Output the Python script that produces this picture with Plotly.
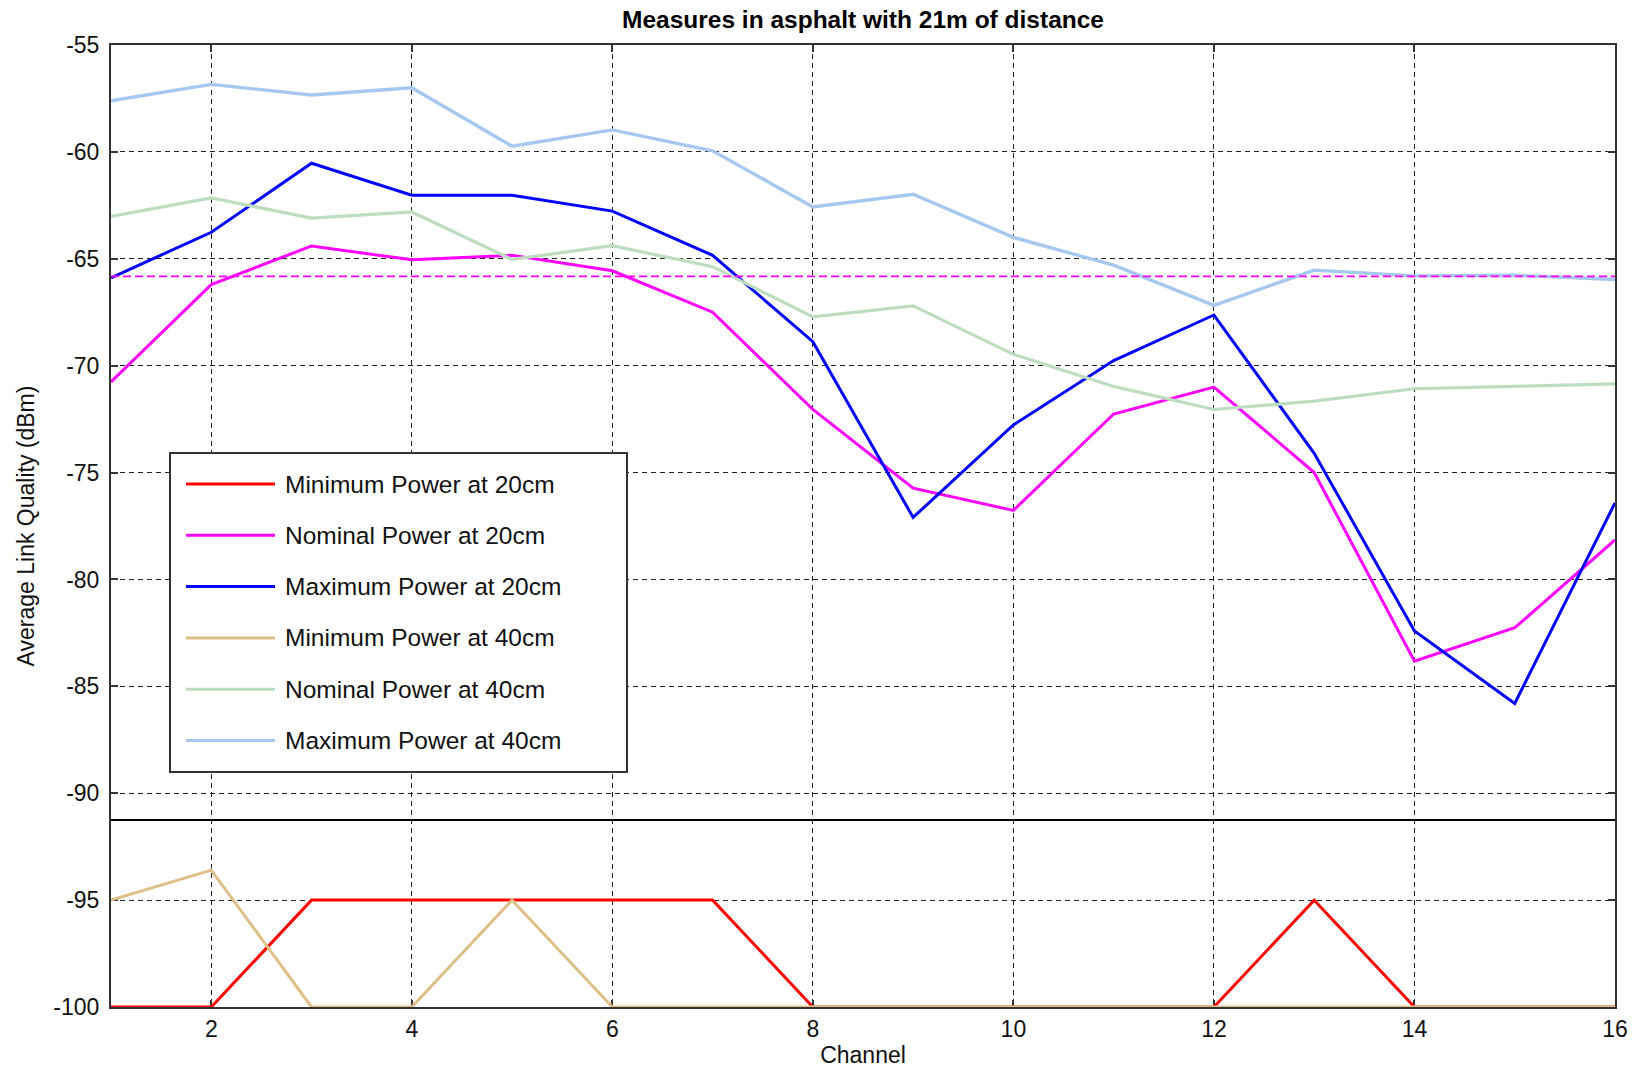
import plotly.graph_objects as go

# ---------------- data ----------------
channels = list(range(1, 17))

min_20cm = [-100, -100, -95, -95, -95, -95, -95, -100, -100, -100, -100, -100, -95, -100, -100, -100]
nom_20cm = [-70.76, -66.21, -64.40, -65.05, -64.84, -65.56, -67.50, -72.05, -75.73, -76.77, -72.26, -71.00, -75.00, -83.82, -82.26, -78.15]
max_20cm = [-65.89, -63.76, -60.53, -62.03, -62.03, -62.77, -64.84, -68.88, -77.10, -72.77, -69.76, -67.63, -74.10, -82.41, -85.80, -76.42]
min_40cm = [-95, -93.6, -100, -100, -95, -100, -100, -100, -100, -100, -100, -100, -100, -100, -100, -100]
nom_40cm = [-63.02, -62.15, -63.10, -62.81, -65.03, -64.39, -65.37, -67.72, -67.20, -69.47, -70.97, -72.05, -71.66, -71.08, -70.97, -70.85]
max_40cm = [-57.61, -56.84, -57.34, -57.00, -59.73, -58.97, -59.95, -62.58, -61.98, -64.00, -65.30, -67.18, -65.53, -65.80, -65.77, -65.97]

reference_level = -65.82     # magenta dashed line
separator_level = -91.25     # solid black line

series_names = ["Minimum Power at 20cm", "Nominal Power at 20cm", "Maximum Power at 20cm",
                "Minimum Power at 40cm", "Nominal Power at 40cm", "Maximum Power at 40cm"]
series_values = [min_20cm, nom_20cm, max_20cm, min_40cm, nom_40cm, max_40cm]
series_colors = ["#FF0000", "#FF00FF", "#0000FF", "#DEBF87", "#BEDDBE", "#A6C8F0"]
series_widths = [3.0, 3.0, 3.0, 3.0, 3.2, 3.4]

x_ticks = [2, 4, 6, 8, 10, 12, 14, 16]
x_tick_labels = ["2", "4", "6", "8", "10", "12", "14", "16"]
y_ticks = [-100, -95, -90, -85, -80, -75, -70, -65, -60, -55]
y_tick_labels = ["-100", "-95", "-90", "-85", "-80", "-75", "-70", "-65", "-60", "-55"]

title_text = "Measures in asphalt with 21m of distance"
x_title = "Channel"
y_title = "Average Link Quality (dBm)"

# ---------------- figure ----------------
FONT = "Liberation Sans, Arial, sans-serif"
fig = go.Figure()

for name, vals, col, w in zip(series_names, series_values, series_colors, series_widths):
    fig.add_trace(go.Scatter(x=channels, y=vals, mode="lines", name=name,
                             line=dict(color=col, width=w), showlegend=False,
                             hoverinfo="skip"))

fig.add_trace(go.Scatter(x=[channels[0], channels[-1]], y=[reference_level, reference_level],
                         mode="lines", line=dict(color="#FF00FF", width=1.8, dash="8px,4px"),
                         showlegend=False, hoverinfo="skip"))
fig.add_trace(go.Scatter(x=[channels[0], channels[-1]], y=[separator_level, separator_level],
                         mode="lines", line=dict(color="#000000", width=2),
                         showlegend=False, hoverinfo="skip"))

W, H = 1639, 1068
L, R, T, B = 111, 24, 45, 61

axis_common = dict(showline=True, linecolor="#333333", linewidth=2, mirror="ticks",
                   ticks="inside", ticklen=7, tickcolor="#333333", tickwidth=1.5,
                   showgrid=True, gridcolor="#222222", gridwidth=1.3, griddash="5px,4px",
                   zeroline=False, layer="below traces", automargin=False,
                   tickfont=dict(family=FONT, size=23, color="#111111"))

fig.update_xaxes(range=[1, 16], tickmode="array", tickvals=x_ticks, ticktext=x_tick_labels,
                 ticklabelstandoff=0,
                 title=dict(text=x_title, font=dict(family=FONT, size=23, color="#111111"), standoff=10),
                 **axis_common)
fig.update_yaxes(range=[-100, -55], tickmode="array", tickvals=y_ticks, ticktext=y_tick_labels,
                 ticklabelstandoff=5,
                 title=dict(text=y_title, font=dict(family=FONT, size=23, color="#111111"), standoff=12),
                 **axis_common)

# ---------------- manual legend (MATLAB style) ----------------
plot_w = W - L - R
plot_h = H - T - B
def px_x(p):  # pixel -> paper
    return (p - L) / plot_w
def px_y(p):
    return (H - B - p) / plot_h

shapes = [dict(type="rect", xref="paper", yref="paper",
               x0=px_x(170), x1=px_x(627), y0=px_y(772), y1=px_y(453),
               line=dict(color="#333333", width=2), fillcolor="white", layer="above")]
annotations = []
row_y0, row_step = 484, 51.3
for i, (name, col, w) in enumerate(zip(series_names, series_colors, series_widths)):
    yy = row_y0 + i * row_step
    shapes.append(dict(type="line", xref="paper", yref="paper",
                       x0=px_x(186), x1=px_x(275), y0=px_y(yy), y1=px_y(yy),
                       line=dict(color=col, width=3), layer="above"))
    annotations.append(dict(xref="paper", yref="paper", x=px_x(283), y=px_y(yy),
                            text=name, showarrow=False, xanchor="left", yanchor="middle",
                            font=dict(family=FONT, size=24.5, color="#111111")))

fig.update_layout(
    width=W, height=H,
    margin=dict(l=L, r=R, t=T, b=B, pad=0, autoexpand=False),
    paper_bgcolor="white", plot_bgcolor="white",
    title=dict(text="<b>" + title_text + "</b>", x=(L + plot_w / 2) / W, xanchor="center",
               y=1 - 19 / H, yanchor="middle", automargin=False,
               font=dict(family=FONT, size=24.5, color="#000000")),
    shapes=shapes, annotations=annotations,
    showlegend=False,
)

fig.write_html("out.html", config={"displayModeBar": False},
               post_script="document.body.style.margin='0px';document.body.style.overflow='hidden';")
